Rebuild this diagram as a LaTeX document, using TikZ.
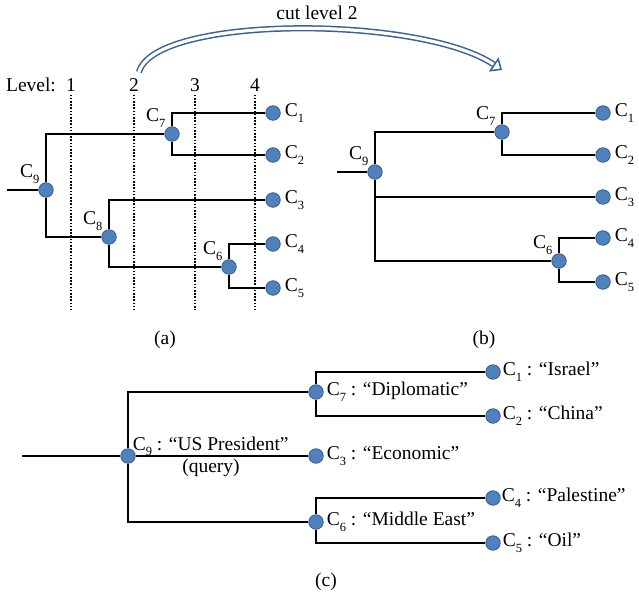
\documentclass[tikz,border=0pt]{standalone}
\usepackage{fontspec}
\setmainfont{Liberation Serif}
\usetikzlibrary{positioning,calc,arrows.meta}
\definecolor{dotblue}{RGB}{79,129,189}
\definecolor{dotedge}{RGB}{56,93,138}
\definecolor{cutblue}{RGB}{58,96,150}
\newcommand{\cn}[1]{C\raisebox{-0.3em}{\fontsize{12.5}{12.5}\selectfont #1}}
\tikzset{
	font=\fontsize{19.5}{23}\selectfont,
	dot/.style={circle, fill=dotblue, draw=dotedge, line width=0.8pt, minimum size=14.5pt, inner sep=0pt},
	lab/.style={inner sep=1pt},
	tree/.style={line width=2.3pt, black},
	levelcut/.style={line width=1.8pt, dash pattern=on 1.6pt off 1.6pt},
	cutarrow/.style={draw=cutblue, line width=1.5pt, double=white, double distance=3.2pt, -{Triangle[open, length=10pt, width=17pt]}},
	every label/.style={lab}
}

\begin{document}
\begin{tikzpicture}[x=1pt, y=-1pt]
	\useasboundingbox (0,0) rectangle (639,594);

	\begin{scope}
		\node[lab] (lvtxt) at (31,85) {Level:};
		\foreach \x/\n in {71/1, 134/2, 195/3, 255/4}{
			\node[lab] (lv\n) at (\x,85) {\n};
			\draw[levelcut] ([yshift=-2pt]lv\n.south) -- (\x,310);
		}

		\coordinate (a0) at (7,190);
		\node[dot, label={above left:\cn{9}}] (a9) at (46,190) {};
		\node[dot, label={above left:\cn{7}}] (a7) at (172,134) {};
		\node[dot, label={above left:\cn{8}}] (a8) at (109,237) {};
		\node[dot, label={above left:\cn{6}}] (a6) at (229,267) {};
		\node[dot, label={[label distance=3pt]right:\cn{1}}] (a1) at (273,113) {};
		\node[dot, label={[label distance=3pt]right:\cn{2}}] (a2) at (273,155) {};
		\node[dot, label={[label distance=3pt]right:\cn{3}}] (a3) at (273,200) {};
		\node[dot, label={[label distance=3pt]right:\cn{4}}] (a4) at (273,244) {};
		\node[dot, label={[label distance=3pt]right:\cn{5}}] (a5) at (273,288) {};

		\draw[tree] (a0) -- (a9);
		\draw[tree] (a9) |- (a7);
		\draw[tree] (a9) |- (a8);
		\draw[tree] (a7) |- (a1);
		\draw[tree] (a7) |- (a2);
		\draw[tree] (a8) |- (a3);
		\draw[tree] (a8) |- (a6);
		\draw[tree] (a6) |- (a4);
		\draw[tree] (a6) |- (a5);

		\node[lab] (capa) at (165,340) {(a)};
	\end{scope}

	\begin{scope}
		\coordinate (b0) at (337,172);
		\node[dot, label={above left:\cn{9}}] (b9) at (375,172) {};
		\node[dot, label={above left:\cn{7}}] (b7) at (502,132) {};
		\node[dot, label={above left:\cn{6}}] (b6) at (559,261) {};
		\node[dot, label={[label distance=3pt]right:\cn{1}}] (b1) at (603,113) {};
		\node[dot, label={[label distance=3pt]right:\cn{2}}] (b2) at (603,155) {};
		\node[dot, label={[label distance=3pt]right:\cn{3}}] (b3) at (603,197) {};
		\node[dot, label={[label distance=3pt]right:\cn{4}}] (b4) at (603,238) {};
		\node[dot, label={[label distance=3pt]right:\cn{5}}] (b5) at (603,282) {};

		\draw[tree] (b0) -- (b9);
		\draw[tree] (b9) |- (b7);
		\draw[tree] (b9) |- (b3);
		\draw[tree] (b9) |- (b6);
		\draw[tree] (b7) |- (b1);
		\draw[tree] (b7) |- (b2);
		\draw[tree] (b6) |- (b4);
		\draw[tree] (b6) |- (b5);

		\node[lab] (capb) at (484,340) {(b)};
	\end{scope}

	\node[lab] (cuttxt) at (317,13) {cut level 2};
	\coordinate (cutstart) at (139,72);
	\coordinate (cutend) at (502,70);
	\draw[cutarrow] (cutstart) .. controls (155,15) and (420,15) .. (cutend);

	\begin{scope}
		\coordinate (c0) at (22,456);
		\node[dot] (c9) at (128,456) {};
		\node[dot, label={[label distance=2pt]right:{\cn{7} : ``Diplomatic''}}] (c7) at (316,392) {};
		\node[dot, label={[label distance=2pt]right:{\cn{3} : ``Economic''}}] (c3) at (316,456) {};
		\node[dot, label={[label distance=2pt]right:{\cn{6} : ``Middle East''}}] (c6) at (316,522) {};
		\node[dot, label={[label distance=1pt]right:{\cn{1} : ``Israel''}}] (c1) at (493,372) {};
		\node[dot, label={[label distance=1pt]right:{\cn{2} : ``China''}}] (c2) at (493,416) {};
		\node[dot, label={[label distance=0pt]right:{\cn{4} : ``Palestine''}}] (c4) at (493,498) {};
		\node[dot, label={[label distance=1pt]right:{\cn{5} : ``Oil''}}] (c5) at (493,543) {};
		\node[lab, anchor=base west] (q9) at ([xshift=-4pt, yshift=6pt]c9.east) {\cn{9} : ``US President''};
		\node[lab] (query) at (211,468) {(query)};

		\draw[tree] (c0) -- (c9);
		\draw[tree] (c9) |- (c7);
		\draw[tree] (c9) -- (c3);
		\draw[tree] (c9) |- (c6);
		\draw[tree] (c7) |- (c1);
		\draw[tree] (c7) |- (c2);
		\draw[tree] (c6) |- (c4);
		\draw[tree] (c6) |- (c5);

		\node[lab] (capc) at (326,582) {(c)};
	\end{scope}
\end{tikzpicture}
\end{document}
